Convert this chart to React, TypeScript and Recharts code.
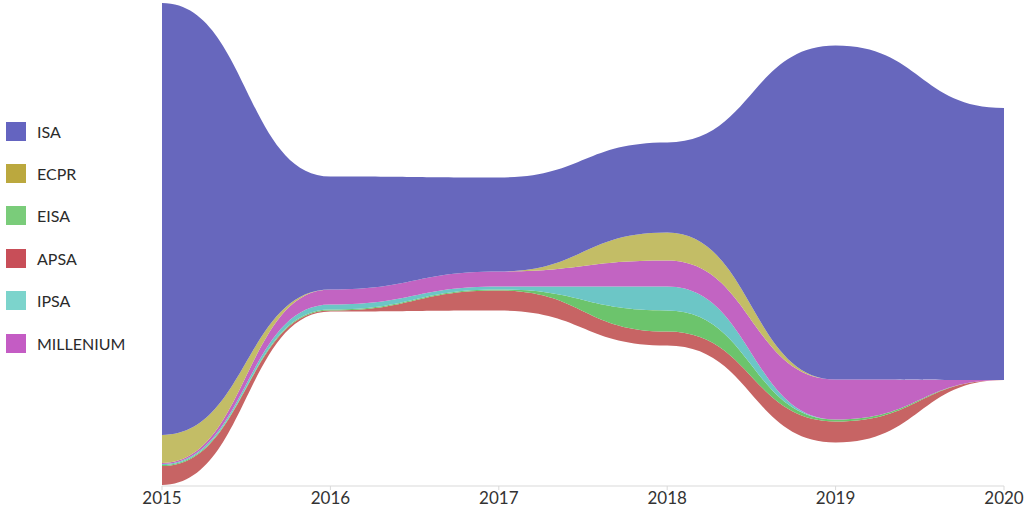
import { AreaChart, Area, XAxis, YAxis } from "recharts"

const years = [2015, 2016, 2017, 2018, 2019, 2020]

// layer thickness per year (arbitrary units)
const isa = [216, 56.5, 47, 45, 167, 136]
const ecpr = [14, 0, 0, 14, 0, 0]
const eisa = [0.5, 0.5, 0.5, 10.5, 1, 0]
const apsa = [9.5, 0.5, 10, 7, 10.5, 0]
const ipsa = [0.5, 2.5, 1.5, 12, 0, 0]
const millenium = [0.5, 7.5, 7.5, 13, 20, 0]

const series = [
  { key: "ISA", values: isa, fill: "#6767BD", legend: "#6464C0" },
  { key: "ECPR", values: ecpr, fill: "#C3BD66", legend: "#BBA83E" },
  { key: "EISA", values: eisa, fill: "#6CC46C", legend: "#7ACC7A" },
  { key: "APSA", values: apsa, fill: "#C76464", legend: "#C84E58" },
  { key: "IPSA", values: ipsa, fill: "#6CC6C6", legend: "#7CD4CC" },
  { key: "MILLENIUM", values: millenium, fill: "#C264C2", legend: "#C45CC4" },
]

// bottom-to-top stacking order
const stackOrder = ["APSA", "EISA", "IPSA", "MILLENIUM", "ECPR", "ISA"]

const data = years.map((year, i) => {
  const row: Record<string, number> = { year }
  series.forEach((s) => {
    row[s.key] = s.values[i]
  })
  return row
})

const fontFamily = "Lato, 'Open Sans', sans-serif"

function LegendBox() {
  return (
    <div style={{ position: "absolute", left: 6, top: 110, fontFamily }}>
      {series.map((s) => (
        <div
          key={s.key}
          style={{ display: "flex", alignItems: "center", height: 42.4 }}
        >
          <span
            style={{
              display: "inline-block",
              width: 20,
              height: 19,
              background: s.legend,
              marginRight: 11,
            }}
          />
          <span style={{ fontSize: 16, color: "#2b2b2b" }}>{s.key}</span>
        </div>
      ))}
    </div>
  )
}

export default function App() {
  return (
    <div
      style={{
        position: "absolute",
        left: 0,
        top: 0,
        width: 1034,
        height: 515,
        background: "#fff",
      }}
    >
      <AreaChart
        width={1034}
        height={515}
        data={data}
        stackOffset="silhouette"
        margin={{ top: 2, right: 30, left: 162, bottom: 4 }}
      >
        <XAxis
          dataKey="year"
          type="number"
          domain={[2015, 2020]}
          ticks={years}
          axisLine={{ stroke: "#d9d9d9" }}
          tickLine={{ stroke: "#d9d9d9" }}
          tickSize={4}
          height={25}
          tick={{ fill: "#333", fontSize: 17, fontFamily }}
        />
        <YAxis hide domain={[-121, 121]} allowDataOverflow />
        {stackOrder.map((k) => {
          const s = series.find((x) => x.key === k)!
          return (
            <Area
              key={k}
              type="bumpX"
              dataKey={k}
              stackId="1"
              stroke="none"
              fill={s.fill}
              fillOpacity={1}
              isAnimationActive={false}
            />
          )
        })}
      </AreaChart>
      <LegendBox />
    </div>
  )
}
